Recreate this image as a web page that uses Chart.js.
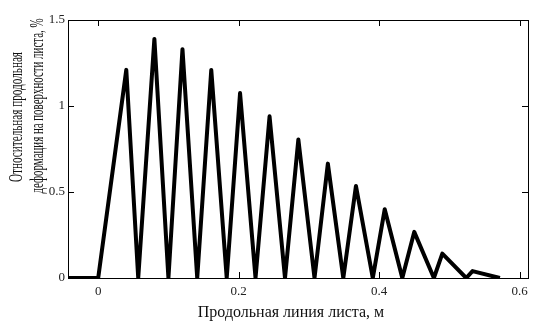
<!DOCTYPE html>
<html>
<head>
<meta charset="utf-8">
<script src="https://cdn.jsdelivr.net/npm/chart.js@4/dist/chart.umd.min.js"></script>
<style>
  html, body { margin: 0; padding: 0; background: #ffffff; }
  #wrap { width: 548px; height: 329px; position: relative; }
</style>
</head>
<body>
<div id="wrap"><canvas id="c" width="548" height="329"></canvas></div>
<script>
// Data
const xPositions = [-0.043, 0.000, 0.040, 0.057, 0.080, 0.100, 0.120, 0.141, 0.161, 0.183, 0.202, 0.224, 0.244, 0.266, 0.285, 0.308, 0.327, 0.349, 0.367, 0.391, 0.408, 0.433, 0.450, 0.478, 0.490, 0.524, 0.533, 0.572];
const strainValues = [0, 0, 1.21, 0, 1.39, 0, 1.33, 0, 1.21, 0, 1.075, 0, 0.94, 0, 0.805, 0, 0.665, 0, 0.535, 0, 0.40, 0, 0.268, 0, 0.142, 0, 0.04, 0];
const xTickValues = [0, 0.2, 0.4, 0.6];
const yTickValues = [0, 0.5, 1, 1.5];
const xTitle = 'Продольная линия листа, м';
const yTitleLines = ['Относительная продольная', 'деформация на поверхности листа, %'];

const points = xPositions.map((x, i) => ({ x: x, y: strainValues[i] }));

const framePlugin = {
  id: 'frame',
  afterDraw(chart) {
    const ctx = chart.ctx;
    const a = chart.chartArea;
    const xs = chart.scales.x, ys = chart.scales.y;
    ctx.save();
    ctx.strokeStyle = '#000';
    ctx.lineWidth = 1;
    ctx.strokeRect(Math.round(a.left) + 0.5, Math.round(a.top) + 0.5, Math.round(a.right - a.left), Math.round(a.bottom - a.top));
    const tl = 6;
    ctx.beginPath();
    xTickValues.forEach(v => {
      const px = Math.round(xs.getPixelForValue(v)) + 0.5;
      ctx.moveTo(px, a.bottom); ctx.lineTo(px, a.bottom - tl);
      ctx.moveTo(px, a.top); ctx.lineTo(px, a.top + tl);
    });
    yTickValues.forEach(v => {
      const py = Math.round(ys.getPixelForValue(v)) + 0.5;
      ctx.moveTo(a.left, py); ctx.lineTo(a.left + tl, py);
      ctx.moveTo(a.right, py); ctx.lineTo(a.right - tl, py);
    });
    ctx.stroke();
    // axis titles
    ctx.fillStyle = '#111';
    ctx.textAlign = 'center';
    ctx.textBaseline = 'middle';
    ctx.font = '16px "Liberation Serif", "Times New Roman", serif';
    ctx.fillText(xTitle, 291, 313);
    ctx.font = '18px "Liberation Serif", "Times New Roman", serif';
    const centers = [[17, 117], [38, 106]];
    const lengths = [130, 175];
    yTitleLines.forEach((t, i) => {
      const w = ctx.measureText(t).width;
      ctx.save();
      ctx.translate(centers[i][0], centers[i][1]);
      ctx.rotate(-Math.PI / 2);
      ctx.scale(lengths[i] / w, 1);
      ctx.fillText(t, 0, 0);
      ctx.restore();
    });
    ctx.restore();
  }
};

new Chart(document.getElementById('c'), {
  type: 'line',
  data: {
    datasets: [{
      data: points,
      borderColor: '#000',
      borderWidth: 4,
      borderJoinStyle: 'round',
      pointRadius: 0,
      tension: 0,
      fill: false
    }]
  },
  options: {
    responsive: false,
    animation: false,
    devicePixelRatio: 1,
    layout: { padding: { top: 20, right: 20, left: 0, bottom: 0 } },
    plugins: { legend: { display: false }, tooltip: { enabled: false } },
    scales: {
      x: {
        type: 'linear',
        min: -0.043,
        max: 0.612,
        afterFit(s) { s.height = 51; },
        afterBuildTicks(s) { s.ticks = xTickValues.map(v => ({ value: v })); },
        grid: { display: false, drawTicks: false },
        border: { display: false },
        ticks: {
          color: '#222',
          padding: 6,
          maxRotation: 0,
          font: { family: '"Liberation Serif", "Times New Roman", serif', size: 13 },
          callback: v => String(v)
        }
      },
      y: {
        type: 'linear',
        min: 0,
        max: 1.5,
        afterFit(s) { s.width = 68; },
        afterBuildTicks(s) { s.ticks = yTickValues.map(v => ({ value: v })); },
        grid: { display: false, drawTicks: false },
        border: { display: false },
        ticks: {
          color: '#222',
          padding: 3,
          font: { family: '"Liberation Serif", "Times New Roman", serif', size: 13 },
          callback: v => String(v)
        }
      }
    }
  },
  plugins: [framePlugin]
});
</script>
</body>
</html>
